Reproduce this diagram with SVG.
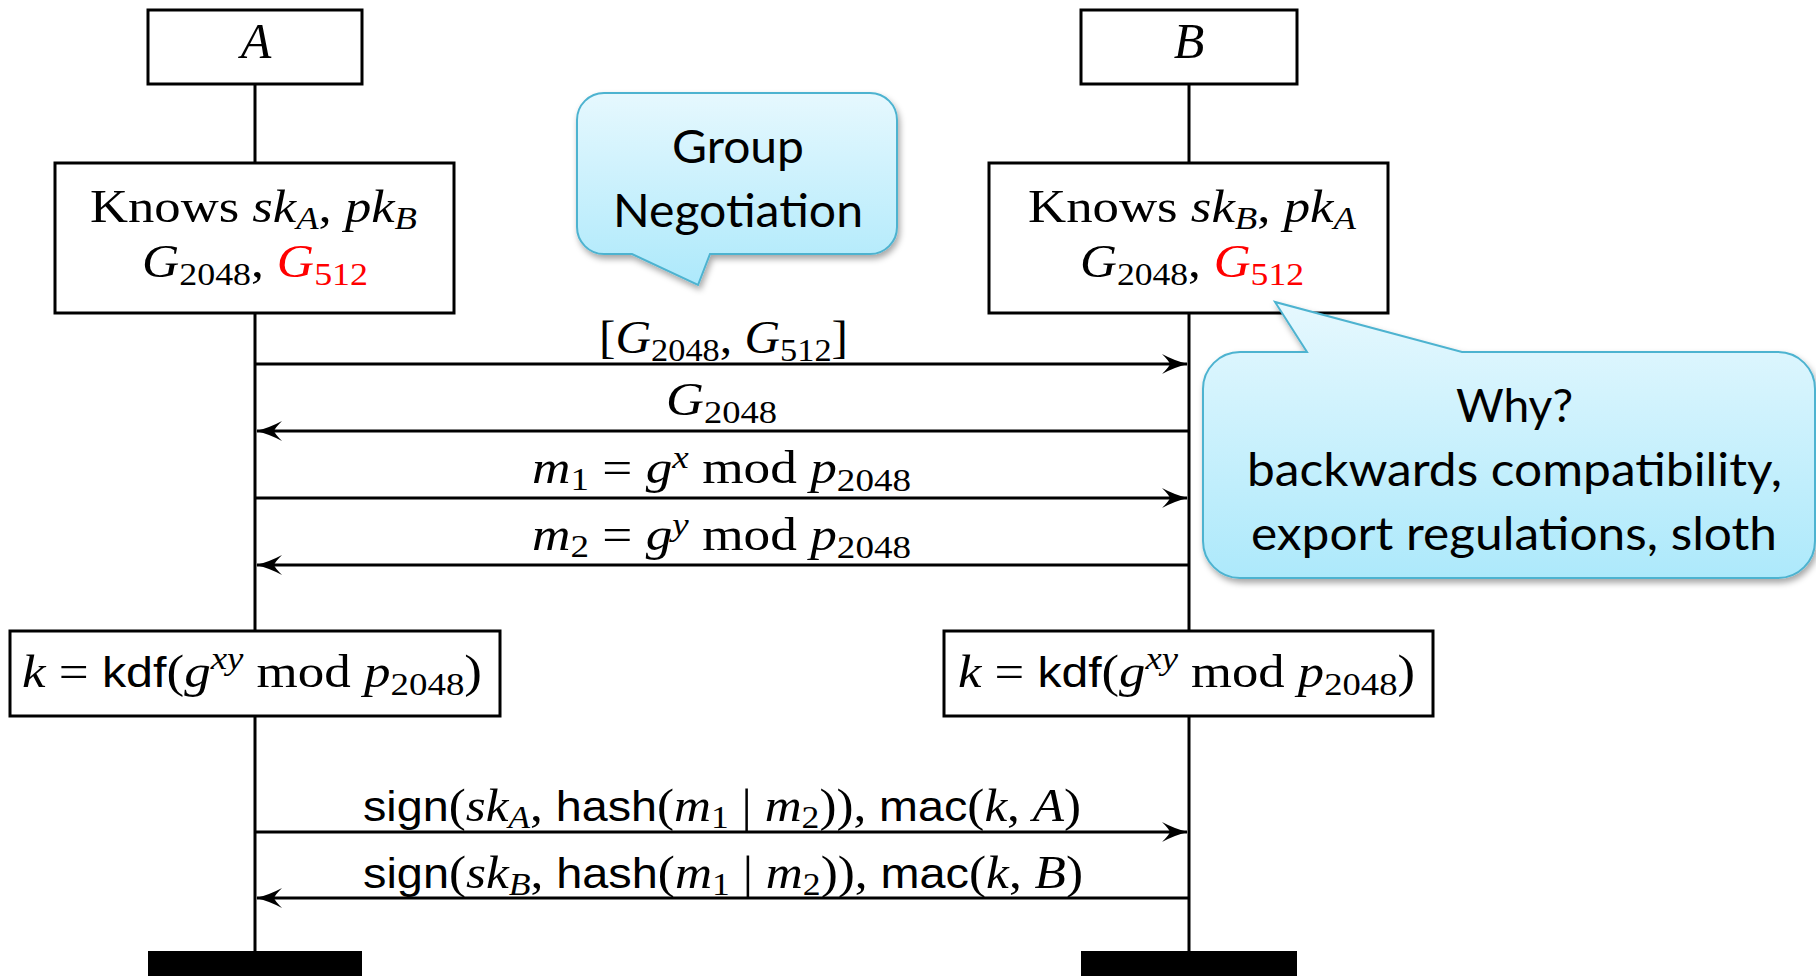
<svg xmlns="http://www.w3.org/2000/svg" width="1816" height="976" viewBox="0 0 1816 976">
  <style>
    .box { fill: #fff; stroke: #000; stroke-width: 3; }
    .life { stroke: #000; stroke-width: 3; fill: none; }
    .msg { stroke: #000; stroke-width: 3; fill: none; marker-end: url(#ah); }
    .m { font-family: "Liberation Serif", "Times New Roman", serif; font-size: 46px; fill: #000; }
    .i { font-style: italic; }
    .sub { font-size: 32px; }
    .sf { font-family: "Liberation Sans", Arial, sans-serif; font-size: 42px; }
    .red { fill: #ff0000; }
    .bub { fill: url(#bubfill); stroke: #4db3d0; stroke-width: 2; filter: url(#shadow); }
    .bt { font-family: Lato, "Open Sans", sans-serif; font-size: 46px; fill: #000; text-anchor: start; }
  </style>
  <defs>
    <marker id="ah" markerUnits="userSpaceOnUse" viewBox="-27 -12 30 24" markerWidth="30" markerHeight="24" refX="0" refY="0" orient="auto">
      <path d="M1,0 Q-12,-3 -25,-10 Q-18,-3 -17,0 Q-18,3 -25,10 Q-12,3 1,0 Z" fill="#000"/>
    </marker>
    <linearGradient id="bubfill" x1="0" y1="0" x2="0" y2="1">
      <stop offset="0" stop-color="#e6f8fe"/>
      <stop offset="1" stop-color="#ade9fb"/>
    </linearGradient>
    <filter id="shadow" x="-10%" y="-10%" width="130%" height="140%">
      <feDropShadow dx="2" dy="4" stdDeviation="3" flood-color="#000" flood-opacity="0.35"/>
    </filter>
  </defs>

  <!-- lifelines -->
  <g id="lifelines">
    <line class="life" x1="255" y1="84" x2="255" y2="952"/>
    <line class="life" x1="1189" y1="84" x2="1189" y2="952"/>
  </g>

  <!-- party A -->
  <g id="head-a">
    <rect class="box" x="148" y="10" width="214" height="74"/>
    <text class="m i" x="256" y="58" font-size="50" text-anchor="middle" style="font-size:50px">A</text>
  </g>
  <g id="knows-a">
    <rect class="box" x="55" y="163" width="399" height="150"/>
    <text class="m" x="90" y="222" textLength="327" lengthAdjust="spacingAndGlyphs">Knows <tspan class="i">sk</tspan><tspan class="sub i" dy="7">A</tspan><tspan dy="-7">, </tspan><tspan class="i">pk</tspan><tspan class="sub i" dy="7">B</tspan></text>
    <text class="m" x="142" y="277" textLength="226" lengthAdjust="spacingAndGlyphs"><tspan class="i">G</tspan><tspan class="sub" dy="8">2048</tspan><tspan dy="-8">, </tspan><tspan class="i red">G</tspan><tspan class="sub red" dy="8">512</tspan></text>
  </g>
  <g id="key-a">
    <rect class="box" x="10" y="631" width="490" height="85"/>
    <text class="m" x="22" y="687" textLength="460" lengthAdjust="spacingAndGlyphs"><tspan class="i">k</tspan> = <tspan class="sf">kdf</tspan>(<tspan class="i">g</tspan><tspan class="sub i" dy="-18">xy</tspan><tspan dy="18"> mod </tspan><tspan class="i">p</tspan><tspan class="sub" dy="8">2048</tspan><tspan dy="-8">)</tspan></text>
  </g>
  <g id="end-a">
    <rect x="148" y="951" width="214" height="30" fill="#000"/>
  </g>

  <!-- party B -->
  <g id="head-b">
    <rect class="box" x="1081" y="10" width="216" height="74"/>
    <text class="m i" x="1189" y="58" text-anchor="middle" style="font-size:50px">B</text>
  </g>
  <g id="knows-b">
    <rect class="box" x="989" y="163" width="399" height="150"/>
    <text class="m" x="1028" y="222" textLength="328" lengthAdjust="spacingAndGlyphs">Knows <tspan class="i">sk</tspan><tspan class="sub i" dy="7">B</tspan><tspan dy="-7">, </tspan><tspan class="i">pk</tspan><tspan class="sub i" dy="7">A</tspan></text>
    <text class="m" x="1080" y="277" textLength="224" lengthAdjust="spacingAndGlyphs"><tspan class="i">G</tspan><tspan class="sub" dy="8">2048</tspan><tspan dy="-8">, </tspan><tspan class="i red">G</tspan><tspan class="sub red" dy="8">512</tspan></text>
  </g>
  <g id="key-b">
    <rect class="box" x="944" y="631" width="489" height="85"/>
    <text class="m" x="958" y="687" textLength="457" lengthAdjust="spacingAndGlyphs"><tspan class="i">k</tspan> = <tspan class="sf">kdf</tspan>(<tspan class="i">g</tspan><tspan class="sub i" dy="-18">xy</tspan><tspan dy="18"> mod </tspan><tspan class="i">p</tspan><tspan class="sub" dy="8">2048</tspan><tspan dy="-8">)</tspan></text>
  </g>
  <g id="end-b">
    <rect x="1081" y="951" width="216" height="30" fill="#000"/>
  </g>

  <!-- messages -->
  <g id="messages">
    <line class="msg" x1="255" y1="364" x2="1187" y2="364"/>
    <line class="msg" x1="1189" y1="431" x2="257" y2="431"/>
    <line class="msg" x1="255" y1="498" x2="1187" y2="498"/>
    <line class="msg" x1="1189" y1="565" x2="257" y2="565"/>
    <line class="msg" x1="255" y1="832" x2="1187" y2="832"/>
    <line class="msg" x1="1189" y1="898" x2="257" y2="898"/>
  </g>
  <g id="message-labels">
    <text class="m" x="599" y="353" textLength="249" lengthAdjust="spacingAndGlyphs">[<tspan class="i">G</tspan><tspan class="sub" dy="8">2048</tspan><tspan dy="-8">, </tspan><tspan class="i">G</tspan><tspan class="sub" dy="8">512</tspan><tspan dy="-8">]</tspan></text>
    <text class="m" x="666" y="415" textLength="111" lengthAdjust="spacingAndGlyphs"><tspan class="i">G</tspan><tspan class="sub" dy="8">2048</tspan></text>
    <text class="m" x="532" y="483" textLength="379" lengthAdjust="spacingAndGlyphs"><tspan class="i">m</tspan><tspan class="sub" dy="7">1</tspan><tspan dy="-7"> = </tspan><tspan class="i">g</tspan><tspan class="sub i" dy="-15">x</tspan><tspan dy="15"> mod </tspan><tspan class="i">p</tspan><tspan class="sub" dy="8">2048</tspan></text>
    <text class="m" x="532" y="550" textLength="379" lengthAdjust="spacingAndGlyphs"><tspan class="i">m</tspan><tspan class="sub" dy="7">2</tspan><tspan dy="-7"> = </tspan><tspan class="i">g</tspan><tspan class="sub i" dy="-15">y</tspan><tspan dy="15"> mod </tspan><tspan class="i">p</tspan><tspan class="sub" dy="8">2048</tspan></text>
    <text class="m" x="363" y="821" textLength="718" lengthAdjust="spacingAndGlyphs"><tspan class="sf">sign</tspan>(<tspan class="i">sk</tspan><tspan class="sub i" dy="7">A</tspan><tspan dy="-7">, </tspan><tspan class="sf">hash</tspan>(<tspan class="i">m</tspan><tspan class="sub" dy="7">1</tspan><tspan dy="-7"> | </tspan><tspan class="i">m</tspan><tspan class="sub" dy="7">2</tspan><tspan dy="-7">)), </tspan><tspan class="sf">mac</tspan>(<tspan class="i">k</tspan>, <tspan class="i">A</tspan>)</text>
    <text class="m" x="363" y="888" textLength="720" lengthAdjust="spacingAndGlyphs"><tspan class="sf">sign</tspan>(<tspan class="i">sk</tspan><tspan class="sub i" dy="7">B</tspan><tspan dy="-7">, </tspan><tspan class="sf">hash</tspan>(<tspan class="i">m</tspan><tspan class="sub" dy="7">1</tspan><tspan dy="-7"> | </tspan><tspan class="i">m</tspan><tspan class="sub" dy="7">2</tspan><tspan dy="-7">)), </tspan><tspan class="sf">mac</tspan>(<tspan class="i">k</tspan>, <tspan class="i">B</tspan>)</text>
  </g>

  <!-- callouts -->
  <g id="callout-group">
    <path class="bub" d="M604,93 H870 A27,27 0 0 1 897,120 V227 A27,27 0 0 1 870,254 H710 L698,285 L632,254 H604 A27,27 0 0 1 577,227 V120 A27,27 0 0 1 604,93 Z"/>
    <text class="bt" x="672" y="163" textLength="132" lengthAdjust="spacingAndGlyphs">Group</text>
    <text class="bt" x="613" y="227" textLength="250" lengthAdjust="spacingAndGlyphs">Negotiation</text>
  </g>
  <g id="callout-why">
    <path class="bub" d="M1240,352 H1307 L1275,302 L1462,352 H1778 A37,37 0 0 1 1815,389 V541 A37,37 0 0 1 1778,578 H1240 A37,37 0 0 1 1203,541 V389 A37,37 0 0 1 1240,352 Z"/>
    <text class="bt" x="1456" y="422" textLength="117" lengthAdjust="spacingAndGlyphs">Why?</text>
    <text class="bt" x="1247" y="486" textLength="535" lengthAdjust="spacingAndGlyphs">backwards compatibility,</text>
    <text class="bt" x="1251" y="550" textLength="526" lengthAdjust="spacingAndGlyphs">export regulations, sloth</text>
  </g>
</svg>
